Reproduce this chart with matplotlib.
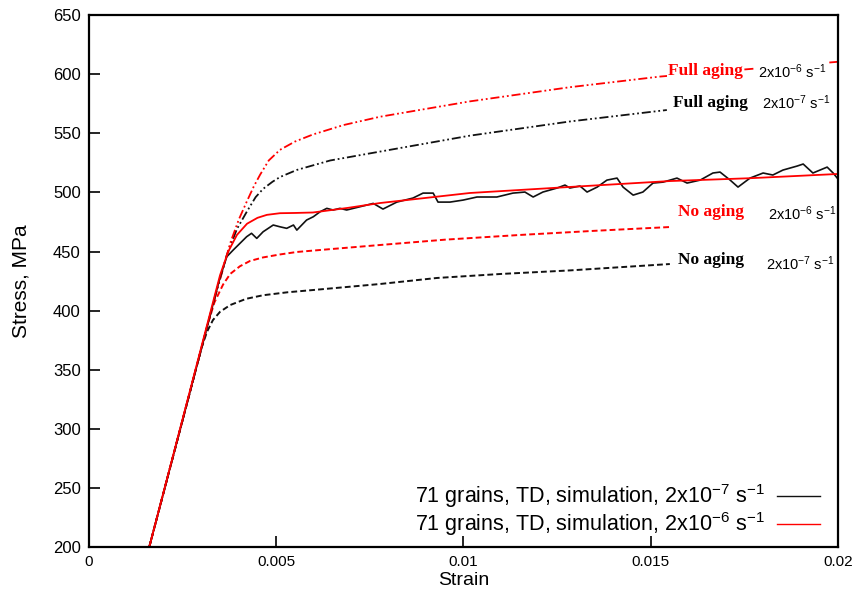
import matplotlib
matplotlib.use("Agg")
import matplotlib.pyplot as plt
from matplotlib.lines import Line2D

plt.rcParams['font.family'] = ['Liberation Sans', 'DejaVu Sans']
plt.rcParams['mathtext.fontset'] = 'custom'
plt.rcParams['mathtext.rm'] = 'Liberation Sans'
plt.rcParams['mathtext.it'] = 'Liberation Sans:italic'
plt.rcParams['mathtext.bf'] = 'Liberation Sans:bold'
plt.rcParams['mathtext.default'] = 'regular'

# --- stress-strain data (strain, MPa) ---
# Full aging, 2e-6 1/s
full6_strain = [0.00161, 0.00330, 0.00355, 0.00377, 0.00400, 0.00421, 0.00440, 0.00457,
                0.00480, 0.00510, 0.00550, 0.00598, 0.00680, 0.00777, 0.01017, 0.01284,
                0.01525, 0.01750, 0.02000]
full6_stress = [200, 404, 432, 457, 477, 492, 505, 515, 527, 536, 543, 549, 557, 564, 577,
                589, 598, 604, 610.5]

# Full aging, 2e-7 1/s
full7_strain = [0.00161, 0.00340, 0.00368, 0.00395, 0.00422, 0.00445, 0.00465, 0.00490,
                0.00510, 0.00555, 0.00644, 0.00750, 0.01017, 0.01284, 0.01543]
full7_stress = [200, 416, 447, 469, 484, 496, 503, 509, 513, 519, 527, 533, 548, 560, 569.7]

# No aging, 2e-6 1/s
no6_strain = [0.00161, 0.00315, 0.00335, 0.00358, 0.00377, 0.00403, 0.00430, 0.00465,
              0.00510, 0.00555, 0.00644, 0.00777, 0.00950, 0.01151, 0.01350, 0.01551]
no6_stress = [200, 386, 407, 422, 431, 437.5, 442, 445, 447.5, 449.6, 452, 455.5, 460,
              464, 467.5, 470.7]

# No aging, 2e-7 1/s
no7_strain = [0.00161, 0.00300, 0.00315, 0.00331, 0.00350, 0.00377, 0.00420, 0.00465,
              0.00530, 0.00598, 0.00777, 0.00929, 0.01100, 0.01284, 0.01551]
no7_stress = [200, 368, 382, 392, 399, 404.7, 410, 413, 415.5, 417.4, 422.5, 427.6, 431,
              434, 439.4]

# 71 grains, TD, simulation, 2e-6 1/s
sim6_strain = [0.00161, 0.00350, 0.00372, 0.00395, 0.00422, 0.00450, 0.00475, 0.00510,
               0.00550, 0.00598, 0.00689, 0.00777, 0.01017, 0.01284, 0.01551, 0.01765, 0.02000]
sim6_stress = [200, 430, 450, 464, 473.5, 478.5, 481, 482.4, 482.6, 483, 486.8, 491, 499.5,
               504.6, 509.6, 512, 515.6]

# 71 grains, TD, simulation, 2e-7 1/s
sim7_strain = [0.00161, 0.00350, 0.00368, 0.00385, 0.00421, 0.00434, 0.00448, 0.00465, 0.00492,
               0.00510, 0.00528, 0.00546, 0.00555, 0.00581, 0.00599, 0.00617, 0.00635, 0.00652,
               0.00670, 0.00688, 0.00706, 0.00724, 0.00742, 0.00759, 0.00785, 0.00822, 0.00865,
               0.00892, 0.00919, 0.00932, 0.00964, 0.00999, 0.01036, 0.01089, 0.01132, 0.01164,
               0.01186, 0.01212, 0.01250, 0.01271, 0.01284, 0.01311, 0.01330, 0.01357, 0.01383,
               0.01410, 0.01426, 0.01453, 0.01479, 0.01506, 0.01533, 0.01570, 0.01597, 0.01632,
               0.01666, 0.01685, 0.01712, 0.01733, 0.01765, 0.01800, 0.01826, 0.01853, 0.01891,
               0.01907, 0.01933, 0.01971, 0.01987, 0.02000]
sim7_stress = [200, 428, 445.6, 451.2, 462.5, 465.4, 461.1, 466.7, 472.4,
               470.9, 469.6, 472.4, 468.1, 476.6, 479.4, 483.6, 486.5, 485.1,
               486.5, 485.1, 486.5, 487.9, 489.3, 490.7, 485.9, 491.8, 495.2,
               499.4, 499.4, 491.8, 491.8, 493.5, 496.1, 496.1, 499.4, 500.3,
               496.1, 500.3, 503.7, 506.2, 503.7, 505.4, 500.3, 504.5, 510.4,
               512.1, 504.5, 497.7, 500.3, 507.9, 508.7, 512.1, 507.9, 510.4,
               516.4, 517.2, 510.4, 504.5, 512.1, 516.4, 514.7, 518.9, 522.3,
               524.0, 516.4, 521.4, 516.4, 511.3]

xticks = [0, 0.005, 0.01, 0.015, 0.02]
xtick_labels = ['0', '0.005', '0.01', '0.015', '0.02']
yticks = list(range(200, 651, 50))

RED = '#ff0000'
BLACK = '#111111'

fig = plt.figure(figsize=(8.58, 5.99), dpi=100)
ax = fig.add_axes([0.1037, 0.0868, 0.873, 0.888])

dashdotdot = (0, (5, 1.6, 1, 1.6, 1, 1.6))
dashed = (0, (3, 1.6))

ax.plot(full7_strain, full7_stress, color=BLACK, lw=1.3, ls=dashdotdot)
ax.plot(full6_strain, full6_stress, color=RED, lw=1.3, ls=dashdotdot)
ax.plot(no7_strain, no7_stress, color=BLACK, lw=1.4, ls=dashed)
ax.plot(no6_strain, no6_stress, color=RED, lw=1.4, ls=dashed)
ax.plot(sim7_strain, sim7_stress, color=BLACK, lw=1.2)
ax.plot(sim6_strain, sim6_stress, color=RED, lw=1.3)

ax.set_xlim(0, 0.02)
ax.set_ylim(200, 650)
ax.set_xticks(xticks)
ax.set_xticklabels(xtick_labels)
ax.set_yticks(yticks)
ax.tick_params(direction='in', length=8, width=1.2, pad=6)
ax.tick_params(axis='x', labelsize=11)
ax.tick_params(axis='y', labelsize=12)
for sp in ax.spines.values():
    sp.set_linewidth(1.6)

ax.set_xlabel('Strain', fontsize=14, labelpad=2)
ax.set_ylabel('Stress, MPa', fontsize=15, labelpad=16)

# curve annotations, on a white patch so the curves pass underneath
# (kept below the spines so the frame stays visible)
patch = dict(facecolor='white', edgecolor='none', pad=1.0)
serif = dict(family=['Liberation Serif', 'DejaVu Serif'], weight='bold', fontsize=12.5,
             va='center', ha='left', bbox=patch, zorder=2.2)
rate = dict(fontsize=10.5, va='center', ha='left', bbox=patch, zorder=2.2)
ax.text(0.01546, 603, 'Full aging', color=RED, **serif)
ax.text(0.01786, 602, r'2x10$^{-6}$ s$^{-1}$', color='black', **rate)
ax.text(0.01559, 576, 'Full aging', color='black', **serif)
ax.text(0.01797, 576, r'2x10$^{-7}$ s$^{-1}$', color='black', **rate)
ax.text(0.01573, 483, 'No aging', color=RED, **serif)
ax.text(0.01813, 482, r'2x10$^{-6}$ s$^{-1}$', color='black', **rate)
ax.text(0.01573, 442.5, 'No aging', color='black', **serif)
ax.text(0.01808, 440, r'2x10$^{-7}$ s$^{-1}$', color='black', **rate)

handles = [Line2D([], [], color=BLACK, lw=1.0), Line2D([], [], color=RED, lw=1.0)]
labels = [r'71 grains, TD, simulation, 2x10$^{-7}$ s$^{-1}$',
          r'71 grains, TD, simulation, 2x10$^{-6}$ s$^{-1}$']
ax.legend(handles, labels, loc='lower right', bbox_to_anchor=(0.987, 0.0),
          frameon=False, markerfirst=False, fontsize=15.5, handlelength=2.0,
          handletextpad=0.55, labelspacing=0.0, borderaxespad=0.0)

fig.savefig('out.png', dpi=100)
